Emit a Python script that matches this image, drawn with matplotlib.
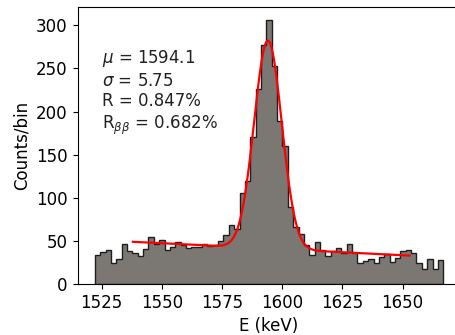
import matplotlib
matplotlib.use('Agg')
import matplotlib.pyplot as plt
import numpy as np

plt.rcParams['font.size'] = 12

# Гистограмма: границы и отсчеты по бинам
e_min, e_max, n_bins = 1522.2, 1666.9, 65
counts = [34, 37, 40, 25, 29, 47, 38, 36, 32, 41, 54, 47, 51, 40, 43, 49,
          45, 42, 43, 43, 46, 44, 45, 50, 57, 68, 64, 106, 119, 170, 226,
          277, 306, 253, 189, 160, 89, 66, 58, 45, 34, 49, 40, 32, 38, 42,
          36, 46, 36, 24, 27, 29, 24, 31, 35, 26, 30, 38, 39, 36, 25, 17,
          29, 18, 28]

# Параметры фита: гаусс + линейный фон
mu, sigma, amp = 1594.1, 5.75, 241.0
bg0, bg_slope = 41.2, -0.139
fit_lo, fit_hi = 1538.0, 1653.0

edges = np.linspace(e_min, e_max, n_bins + 1)
centers = 0.5 * (edges[:-1] + edges[1:])

fig = plt.figure(figsize=(4.56, 3.35), dpi=100)
ax = fig.add_axes([0.170, 0.152, 0.840, 0.828])

ax.hist(centers, bins=edges, weights=counts, histtype='stepfilled',
        facecolor='#7b7773', edgecolor='#1e1e1e', linewidth=1.0)

E = np.linspace(fit_lo, fit_hi, 500)
fit = amp * np.exp(-(E - mu)**2 / (2 * sigma**2)) + bg0 + bg_slope * (E - mu)
ax.plot(E, fit, color='red', linewidth=1.6)

ax.set_xlim(1515.0, 1674.1)
ax.set_ylim(0, 321.5)
ax.set_xticks([1525, 1550, 1575, 1600, 1625, 1650])
ax.set_xlabel('E (keV)')
ax.set_ylabel('Counts/bin')

txt = ('$\\mu$ = 1594.1\n$\\sigma$ = 5.75\nR = 0.847%\n'
       'R$_{\\beta\\beta}$ = 0.682%')
ax.text(0.063, 0.852, txt, transform=ax.transAxes, va='top', ha='left',
        color='#222222')

plt.savefig('out.png', dpi=100)
